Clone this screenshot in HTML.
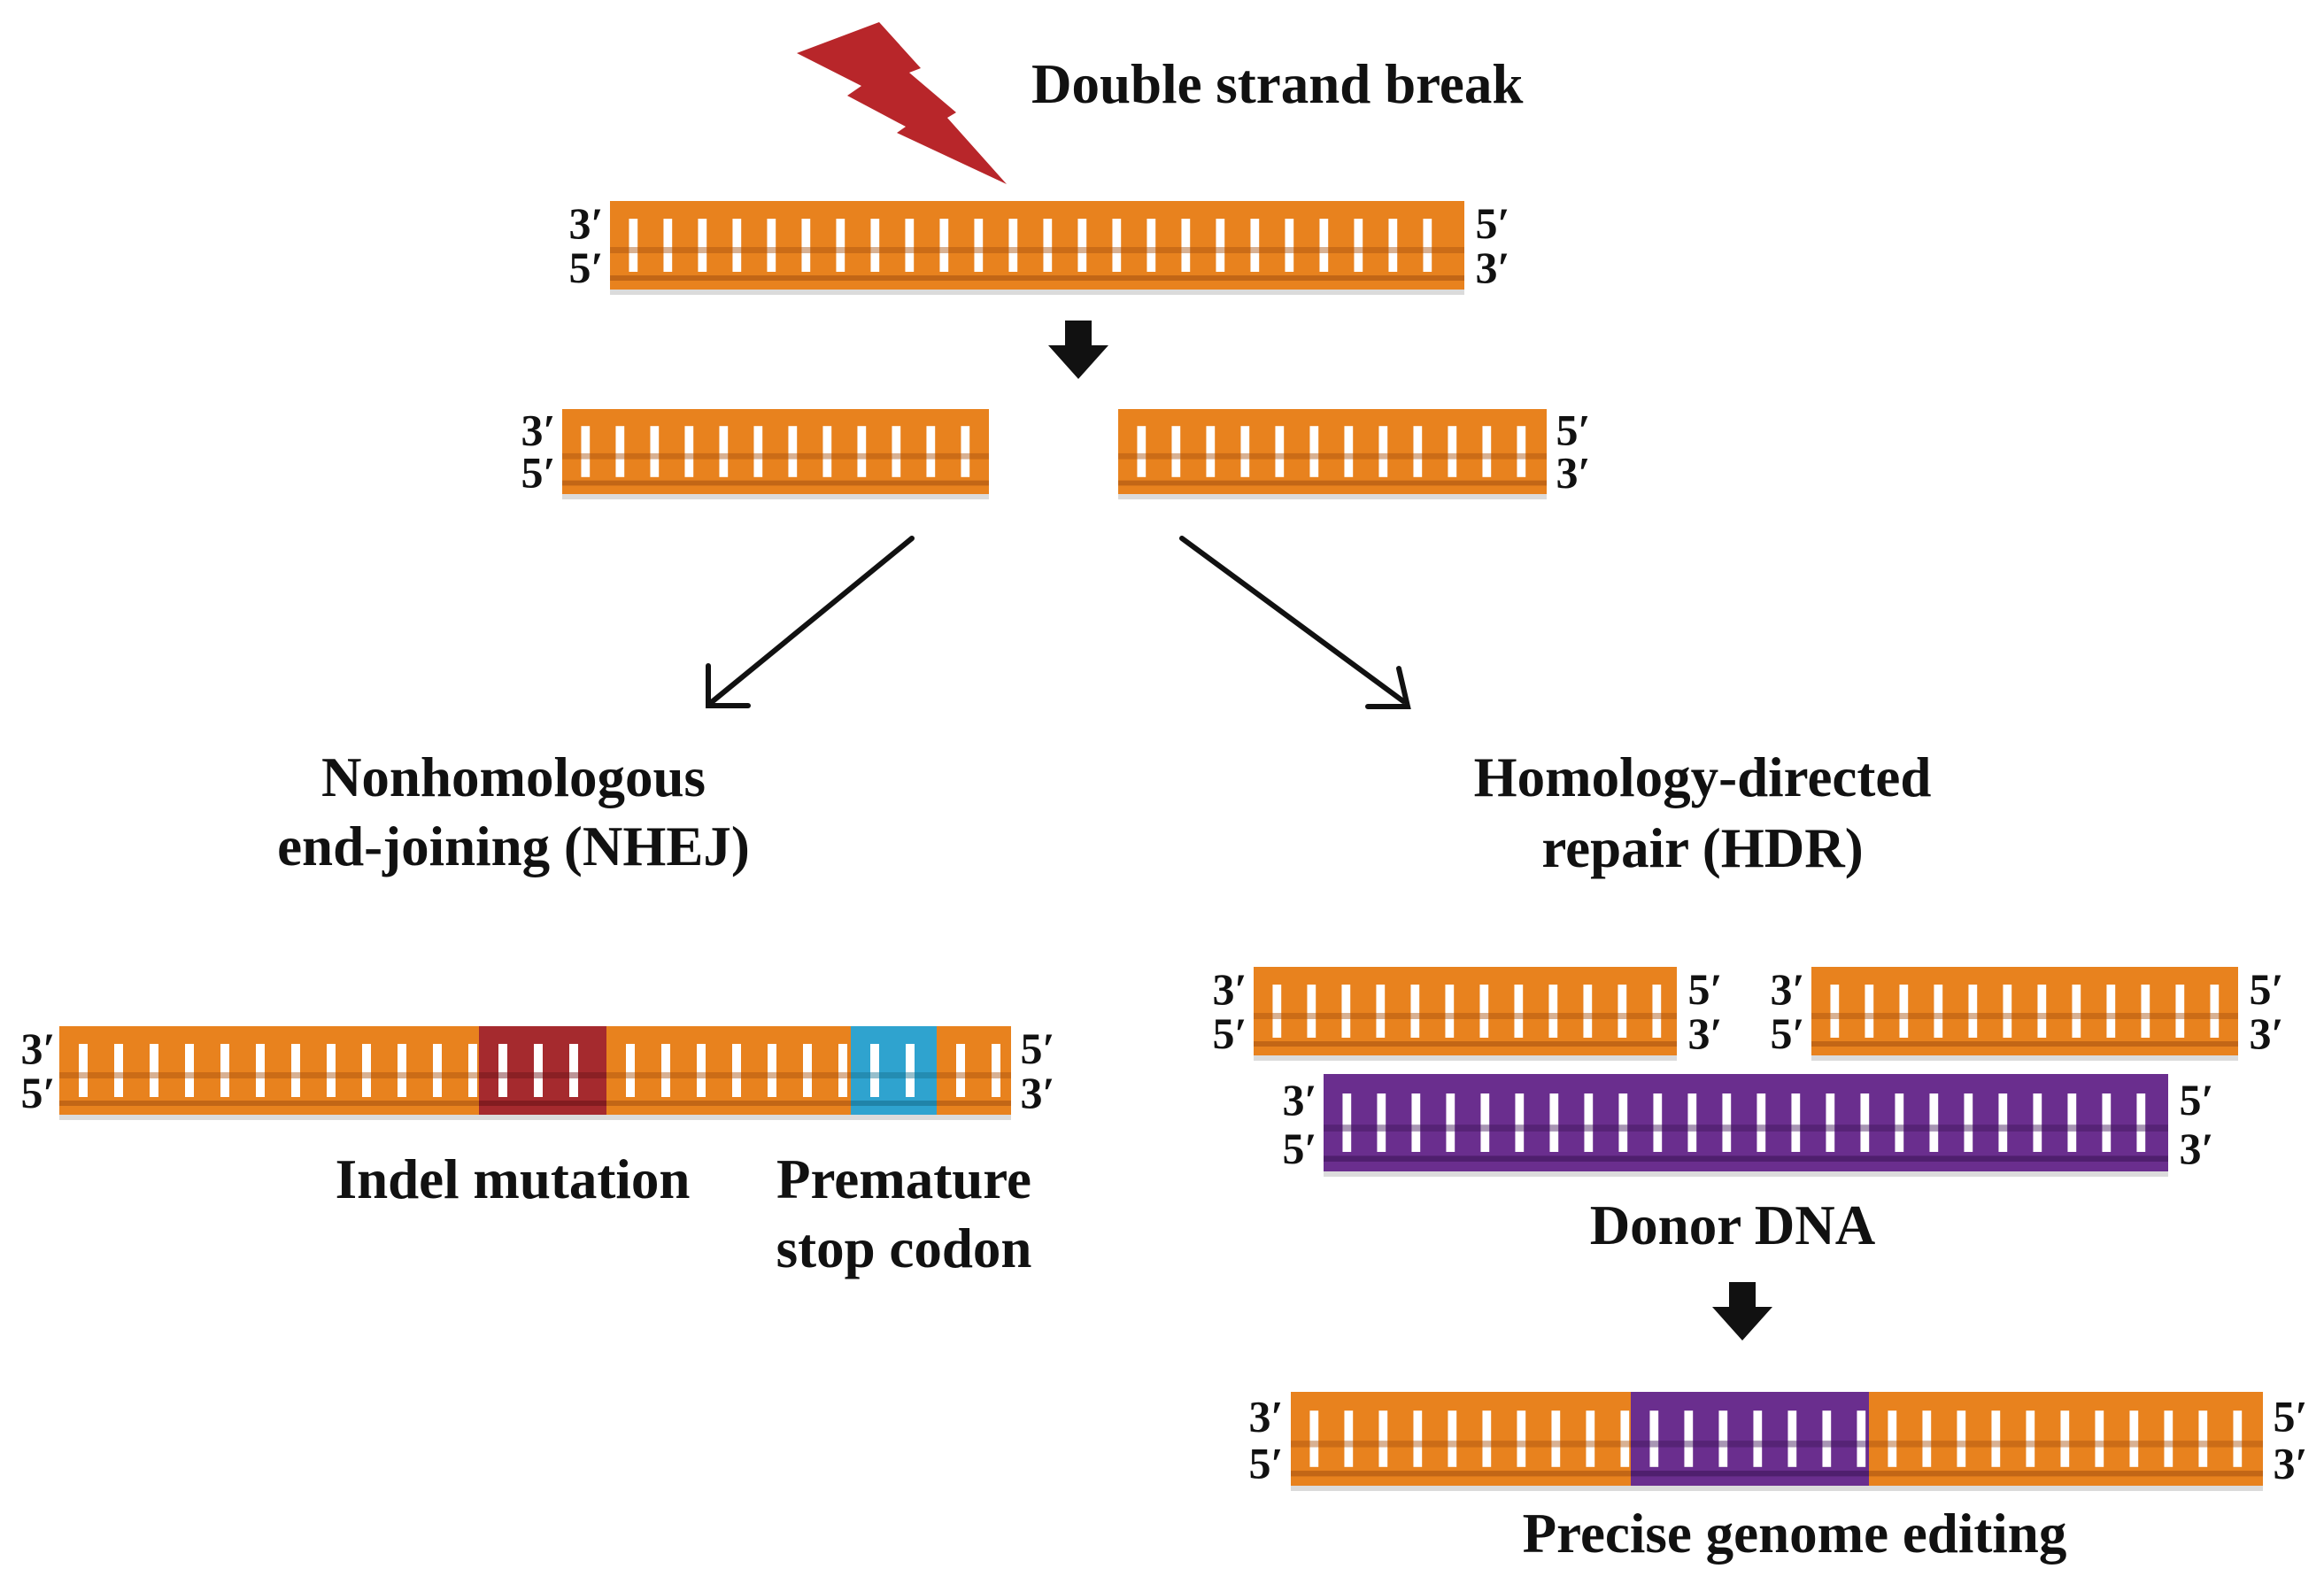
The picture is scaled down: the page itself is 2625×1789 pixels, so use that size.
<!DOCTYPE html>
<html><head><meta charset="utf-8"><style>
html,body{margin:0;padding:0;background:#fff;}
svg{display:block}
text{font-family:"Liberation Serif",serif;font-weight:bold;fill:#111}
</style></head><body>
<svg id="s" width="2625" height="1789" viewBox="0 0 2625 1789" xmlns="http://www.w3.org/2000/svg">
<polygon fill="#b8262a" points="900,60 993,25 1040,77 1027,82 1080,127 1070,133 1137,208 1013,150 1023,143 957,108 973,97"/>
<text x="1165" y="116" font-size="63">Double strand break</text>
<g id="dna"></g>
<polygon fill="#111" points="1203,362 1233,362 1233,390 1252,390 1218,428 1184,390 1203,390"/>
<polygon fill="#111" points="1953,1448 1983,1448 1983,1476 2002,1476 1968,1514 1934,1476 1953,1476"/>
<g stroke="#111" stroke-width="6" fill="none" stroke-linecap="round">
<line x1="1030" y1="608" x2="805" y2="792"/>
<polyline points="800,752 800,797 845,797"/>
<line x1="1335" y1="608" x2="1585" y2="792"/>
<polyline points="1545,798 1590,798 1580,755"/>
</g>
<g font-size="63" text-anchor="middle">
<text x="580" y="899">Nonhomologous</text>
<text x="580" y="977">end-joining (NHEJ)</text>
<text x="1923" y="899">Homology-directed</text>
<text x="1923" y="979">repair (HDR)</text>
<text x="579" y="1353">Indel mutation</text>
<text x="1021" y="1353">Premature</text>
<text x="1021" y="1431">stop codon</text>
<text x="1957" y="1405">Donor DNA</text>
<text x="2027" y="1753">Precise genome editing</text>
</g>
<g id="lab" font-size="50"></g>
</svg>
<script>
var C={o:["#e8821e","#a85310"],r:["#a52a2e","#6a1418"],b:["#2fa3cf","#18708f"],p:["#6a2e8e","#3e1658"]};
var g=document.getElementById('dna'),L=document.getElementById('lab'),h='',l='';
function seg(x,y,w,H,c,p){p=p||39;var col=C[c][0],d=C[c][1];
 h+='<rect x="'+x+'" y="'+(y+6)+'" width="'+w+'" height="'+H+'" fill="#999" opacity="0.35"/>';
 h+='<rect x="'+x+'" y="'+y+'" width="'+w+'" height="'+H+'" fill="'+col+'"/>';
 var t=y+H*0.2,b=y+H*0.8;
 for(var i=x+p*0.55;i<x+w-8;i+=p){h+='<rect x="'+i+'" y="'+t+'" width="'+(p*0.25)+'" height="'+(b-t)+'" fill="#fff"/>';}
 h+='<rect x="'+x+'" y="'+(y+H*0.52)+'" width="'+w+'" height="'+(H*0.07)+'" fill="'+d+'" opacity="0.45"/>';
 h+='<rect x="'+x+'" y="'+(y+H*0.84)+'" width="'+w+'" height="'+(H*0.06)+'" fill="'+d+'" opacity="0.6"/>';
}
function lab(x,y,H,left){var a=left?['3′','5′']:['5′','3′'];
 l+='<text x="'+x+'" y="'+(y+H*0.42)+'" text-anchor="middle">'+a[0]+'</text><text x="'+x+'" y="'+(y+H*0.92)+'" text-anchor="middle">'+a[1]+'</text>';}
function full(x,y,w,H,c){seg(x,y,w,H,c);lab(x-27,y,H,1);lab(x+w+32,y,H,0);}
full(689,227,965,100,'o');
seg(635,462,482,96,'o');lab(608,462,96,1);
seg(1263,462,484,96,'o');lab(1777,462,96,0);
seg(67,1159,474,100,'o',40);seg(541,1159,144,100,'r',40);seg(685,1159,276,100,'o',40);seg(961,1159,97,100,'b',40);seg(1058,1159,84,100,'o',40);
lab(43,1159,100,1);lab(1172,1159,100,0);
full(1416,1092,478,100,'o');full(2046,1092,482,100,'o');
full(1495,1213,954,110,'p');
seg(1458,1572,384,106,'o');seg(1842,1572,269,106,'p');seg(2111,1572,445,106,'o');
lab(1430,1572,106,1);lab(2587,1572,106,0);
g.innerHTML=h;L.innerHTML=l;
</script>
</body></html>
